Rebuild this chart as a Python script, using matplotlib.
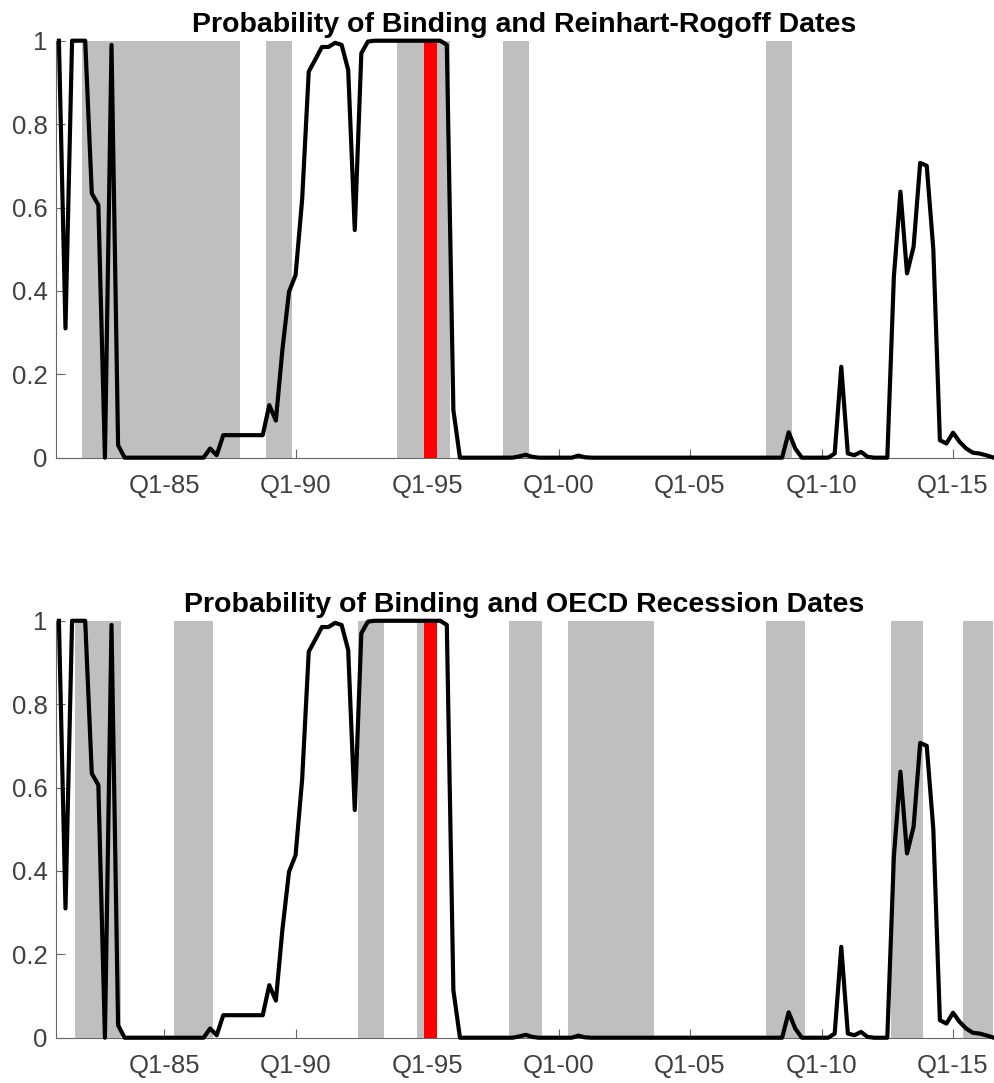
import numpy as np
import matplotlib
matplotlib.use("Agg")
import matplotlib.pyplot as plt

plt.rcParams['font.family'] = ['Liberation Sans', 'DejaVu Sans']

# ---------------- data ----------------
start_year = 1981.0          # first observation: 1981Q1, quarterly
prob_binding = [
    1.00, 0.31, 1.00, 1.00, 1.00, 0.634, 0.606, 0.00, 0.99, 0.03,   # 0-9
    0.00, 0.00, 0.00, 0.00, 0.00, 0.00, 0.00, 0.00, 0.00, 0.00,     # 10-19
    0.00, 0.00, 0.00, 0.022, 0.006, 0.054, 0.054, 0.054, 0.054, 0.054,  # 20-29
    0.054, 0.054, 0.126, 0.089, 0.26, 0.398, 0.438, 0.62, 0.926, 0.955,  # 30-39
    0.985, 0.985, 0.995, 0.99, 0.93, 0.546, 0.97, 0.998, 1.00, 1.00,    # 40-49
    1.00, 1.00, 1.00, 1.00, 1.00, 1.00, 1.00, 1.00, 1.00, 0.99,      # 50-59
    0.114, 0.00, 0.00, 0.00, 0.00, 0.00, 0.00, 0.00, 0.00, 0.00,     # 60-69
    0.003, 0.007, 0.002, 0.00, 0.00, 0.00, 0.00, 0.00, 0.00, 0.005,  # 70-79
    0.001, 0.00, 0.00, 0.00, 0.00, 0.00, 0.00, 0.00, 0.00, 0.00,     # 80-89
    0.00, 0.00, 0.00, 0.00, 0.00, 0.00, 0.00, 0.00, 0.00, 0.00,      # 90-99
    0.00, 0.00, 0.00, 0.00, 0.00, 0.00, 0.00, 0.00, 0.00, 0.00,      # 100-109
    0.00, 0.061, 0.022, 0.00, 0.00, 0.00, 0.00, 0.00, 0.01, 0.218,   # 110-119
    0.01, 0.006, 0.014, 0.002, 0.00, 0.00, 0.00, 0.434, 0.638, 0.442, # 120-129
    0.506, 0.707, 0.70, 0.50, 0.042, 0.034, 0.06, 0.038, 0.022, 0.012, # 130-139
    0.01, 0.006, 0.001,                                               # 140-142
]

# crisis / recession periods (first quarter, last quarter)
rr_periods = [("1982Q1", "1987Q4"), ("1989Q1", "1989Q4"), ("1994Q1", "1995Q4"),
              ("1998Q1", "1998Q4"), ("2008Q1", "2008Q4")]
oecd_periods = [("1981Q4", "1983Q2"), ("1985Q3", "1986Q4"), ("1992Q3", "1993Q2"),
                ("1994Q4", "1995Q2"), ("1998Q2", "1999Q2"), ("2000Q3", "2003Q3"),
                ("2008Q1", "2009Q2"), ("2012Q4", "2013Q4"), ("2015Q3", "2016Q3")]
highlight_period = ("1995Q1", "1995Q2")

titles = ["Probability of Binding and Reinhart-Rogoff Dates",
          "Probability of Binding and OECD Recession Dates"]
xtick_years = [1985, 1990, 1995, 2000, 2005, 2010, 2015]
xtick_labels = ["Q1-85", "Q1-90", "Q1-95", "Q1-00", "Q1-05", "Q1-10", "Q1-15"]
ytick_vals = [0, 0.2, 0.4, 0.6, 0.8, 1]
ytick_labels = ["0", "0.2", "0.4", "0.6", "0.8", "1"]

# ---------------- helpers ----------------
def q2x(q):
    y, qq = q.split("Q")
    return int(y) + (int(qq) - 1) * 0.25

t = start_year + 0.25 * np.arange(len(prob_binding))

def quarters_in(periods):
    xs = []
    for a, b in periods:
        xs.extend(np.arange(q2x(a), q2x(b) + 0.01, 0.25))
    return np.array(xs)

# ---------------- figure ----------------
fig = plt.figure(figsize=(9.95, 10.83), dpi=100)
axes_pos = [[0.0563, 0.5774, 0.9417, 0.385],
            [0.0563, 0.0418, 0.9417, 0.385]]

for k, (pos, periods) in enumerate(zip(axes_pos, [rr_periods, oecd_periods])):
    ax = fig.add_axes(pos)
    qx = quarters_in(periods)
    ax.bar(qx, np.ones_like(qx), width=0.25, color="#bfbfbf", linewidth=0,
           antialiased=False, zorder=1)
    hx = quarters_in([highlight_period])
    ax.bar(hx, np.ones_like(hx), width=0.25, color="#ff0000", linewidth=0,
           antialiased=False, zorder=1.5)
    ax.plot(t, prob_binding, color="black", lw=3.0, zorder=3,
            solid_joinstyle="round", clip_on=False)
    ax.set_xlim(1980.89, 2016.52)
    ax.set_ylim(0, 1)
    ax.set_xticks(xtick_years)
    ax.set_xticklabels(xtick_labels)
    ax.set_yticks(ytick_vals)
    ax.set_yticklabels(ytick_labels)
    ax.tick_params(direction="in", length=6.5, width=0.8, colors="#666666",
                   labelcolor="#404040", labelsize=18.5)
    ax.tick_params(axis="x", pad=12)
    ax.tick_params(axis="y", pad=6)
    for s in ["top", "right"]:
        ax.spines[s].set_visible(False)
    for s in ["left", "bottom"]:
        ax.spines[s].set_color("#666666")
        ax.spines[s].set_linewidth(0.8)
        ax.spines[s].set_zorder(0.5)
    ax.set_axisbelow(True)
    ax.set_title(titles[k], fontsize=20.5, fontweight="bold", color="black", pad=6)

fig.savefig("out.png", dpi=100)
